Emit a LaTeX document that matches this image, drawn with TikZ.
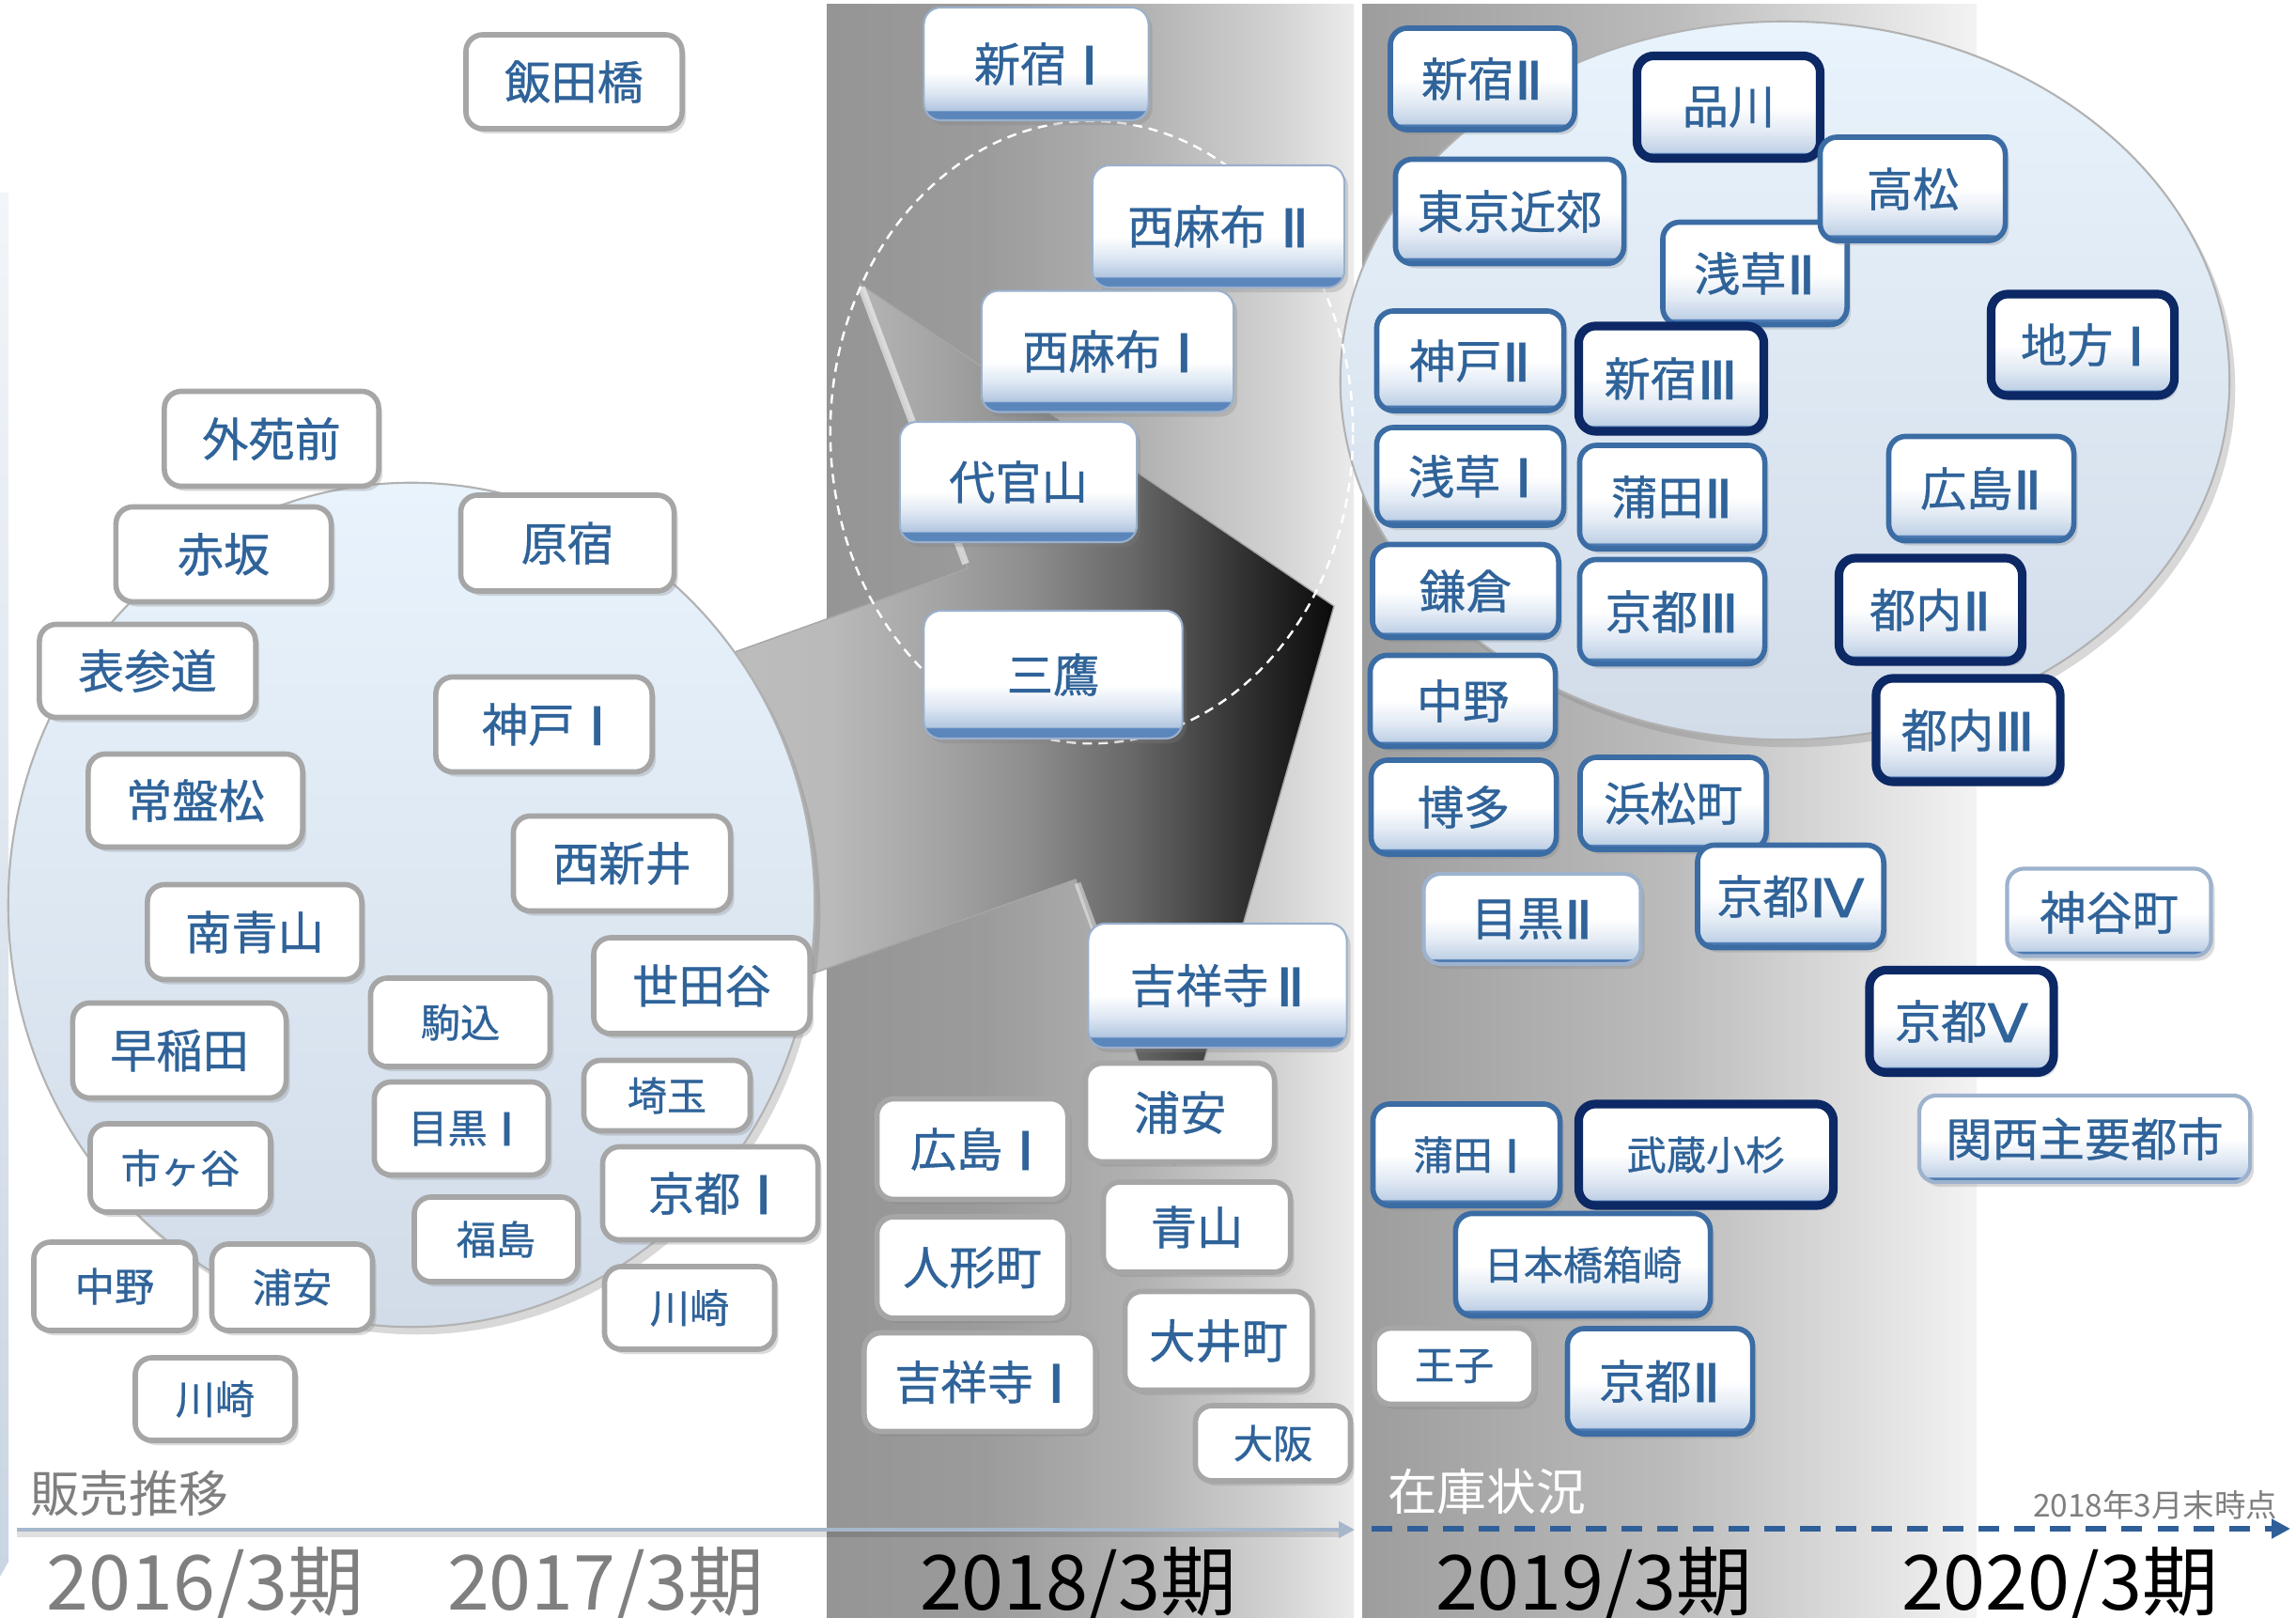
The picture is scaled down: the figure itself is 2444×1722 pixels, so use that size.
\documentclass[tikz,border=0pt]{standalone}
\usepackage{fontspec}
\setmainfont{Noto Sans CJK JP}
\newfontfamily\bxf{Noto Sans CJK JP}[FakeBold=0.7]
\newfontfamily\rnf{DejaVu Sans}[FakeBold=0.6]
\usetikzlibrary{shadows,arrows.meta}

\definecolor{txtblue}{HTML}{2F6399}
\definecolor{boxgray}{HTML}{A6A6A6}
\definecolor{steel}{HTML}{3B6CA4}
\definecolor{navy}{HTML}{0C2865}
\definecolor{lsteel}{HTML}{9DB2CD}
\definecolor{glossbd}{HTML}{9AB0CC}
\definecolor{bandA}{HTML}{5A86BC}
\definecolor{glowA}{HTML}{B3C7E0}
\definecolor{midA}{HTML}{DCE6F2}
\definecolor{bandB}{HTML}{4A79B2}
\definecolor{glowB}{HTML}{C0D1E6}
\definecolor{midB}{HTML}{E2EAF4}
\definecolor{axisgray}{HTML}{A6B7CB}
\definecolor{axisblue}{HTML}{2F5F98}
\definecolor{labgray}{HTML}{7F7F7F}
\definecolor{arA}{HTML}{C8C8C8}
\definecolor{arB}{HTML}{BABABA}
\definecolor{arC}{HTML}{A4A4A4}
\definecolor{arD}{HTML}{8E8E8E}
\definecolor{arE}{HTML}{666666}
\definecolor{arF}{HTML}{303030}
\definecolor{arG}{HTML}{0A0A0A}
\definecolor{cA1}{HTML}{959595}
\definecolor{cA2}{HTML}{9B9B9B}
\definecolor{cA3}{HTML}{B2B2B2}
\definecolor{cA4}{HTML}{D3D3D3}
\definecolor{cA5}{HTML}{EBEBEB}
\definecolor{cB1}{HTML}{9D9D9D}
\definecolor{cB2}{HTML}{BBBBBB}
\definecolor{cB3}{HTML}{F3F3F3}
\definecolor{circtop}{HTML}{E8F3FC}
\definecolor{circbot}{HTML}{D2DCE9}
\definecolor{stripA}{HTML}{F2F5F9}
\definecolor{stripB}{HTML}{C9D5E3}

\pgfdeclareverticalshading{glossA}{100bp}{color(0bp)=(bandA); color(29bp)=(bandA); color(29.6bp)=(glowA); color(37bp)=(midA); color(46bp)=(white); color(100bp)=(white)}
\pgfdeclareverticalshading{glossB}{100bp}{color(0bp)=(bandB); color(27.5bp)=(bandB); color(28.1bp)=(glowB); color(38bp)=(midB); color(50bp)=(white); color(100bp)=(white)}
\pgfdeclarehorizontalshading{arrowsh}{100bp}{color(0bp)=(arA); color(25bp)=(arA); color(52bp)=(arB); color(57bp)=(arC); color(61bp)=(arD); color(66bp)=(arE); color(71bp)=(arF); color(75bp)=(arG); color(100bp)=(arG)}
\pgfdeclarehorizontalshading{colA}{100bp}{color(0bp)=(cA1); color(25bp)=(cA1); color(40bp)=(cA2); color(55bp)=(cA3); color(68bp)=(cA4); color(75bp)=(cA5); color(100bp)=(cA5)}
\pgfdeclarehorizontalshading{colB}{100bp}{color(0bp)=(cB1); color(25bp)=(cB1); color(50bp)=(cB2); color(75bp)=(cB3); color(100bp)=(cB3)}

\newcommand\fbig{\fontsize{14pt}{17pt}\selectfont}
\newcommand\fsml{\fontsize{12pt}{14pt}\selectfont}
\newcommand\flab{\fontsize{15pt}{18pt}\selectfont}
\newcommand\fnote{\fontsize{9.5pt}{11pt}\selectfont}
\newcommand\fyear{\fontsize{23pt}{27pt}\selectfont}
\newcommand\rn[1]{\raisebox{-0.07em}{\scalebox{1.3}[1.15]{\rnf #1}}}
\newcommand\gap{\hspace{0.3em}}

\tikzset{
  bx/.style={rounded corners=0.18cm, inner sep=0pt, outer sep=0pt, text=txtblue, font=\bxf\fbig,
    drop shadow={shadow xshift=0.04cm, shadow yshift=-0.05cm, opacity=0.28}},
  gbox/.style={bx, draw=boxgray, line width=1.6pt, fill=white},
  abox/.style={bx, draw=glossbd, line width=0.6pt, shade, shading=glossA},
  bbox/.style={bx, draw=steel, line width=1.6pt, shade, shading=glossB},
  nbox/.style={bx, draw=navy, line width=2.6pt, shade, shading=glossB},
  lbox/.style={bx, draw=lsteel, line width=1.2pt, shade, shading=glossB},
  sm/.style={font=\bxf\fsml},
  sz/.style 2 args={minimum width=#1, minimum height=#2},
  lab/.style={inner sep=0pt, outer sep=0pt}
}

\begin{document}
\begin{tikzpicture}[x=0.01cm, y=-0.01cm]
\useasboundingbox (0,0) rectangle (2444,1722);
\fill[white] (0,0) rectangle (2444,1722);

% period columns
\shade[shading=colA] (880,5) rectangle (1441,1722);
\shade[shading=colB] (1450,5) rectangle (2104,1722);

% thin left strip
\shade[top color=stripA, bottom color=stripB] (0,205) -- (9,205) -- (9,1662) -- (0,1678) -- cycle;

% big 3D arrow
\shade[shading=arrowsh, draw=black!35, line width=0.4pt]
  (250,885) -- (1030,605) -- (915,302) -- (1420,645) -- (1250,1240) -- (1145,936) -- (250,1256) -- cycle;
\draw[white, opacity=0.55, line width=2.2pt] (917,306) -- (1028,600);
\draw[white, opacity=0.45, line width=2pt] (1147,940) -- (1180,1030);

% left circle
\shade[top color=circtop, bottom color=circbot, draw=black!30, line width=0.6pt,
  drop shadow={shadow xshift=0.06cm, shadow yshift=-0.08cm, opacity=0.3}]
  (438,963) ellipse [x radius=4.29cm, y radius=4.49cm];

% right circle
\shade[top color=circtop, bottom color=circbot, draw=black!30, line width=0.6pt,
  drop shadow={shadow xshift=0.06cm, shadow yshift=-0.08cm, opacity=0.3}]
  (1900,405) ellipse [x radius=4.73cm, y radius=3.82cm];

% dashed ellipse in 2018 column
\draw[white, line width=0.7pt, dash pattern=on 0.1cm off 0.07cm] (1162,460) ellipse [x radius=2.78cm, y radius=3.31cm];

% ---- 2016/2017 boxes
\node[gbox, sz={2.30cm}{1.00cm}] (iidabashi) at (611,87) {飯田橋};
\node[gbox, sz={2.28cm}{1.01cm}] (gaienmae) at (289,467) {外苑前};
\node[gbox, sz={2.29cm}{1.01cm}] (akasaka) at (238,590) {赤坂};
\node[gbox, sz={2.27cm}{1.02cm}] (harajuku) at (604,578) {原宿};
\node[gbox, sz={2.30cm}{0.99cm}] (omotesando) at (157,714) {表参道};
\node[gbox, sz={2.30cm}{1.01cm}] (kobeI) at (579,771) {神戸\gap\rn{Ⅰ}};
\node[gbox, sz={2.28cm}{0.99cm}] (tokiwamatsu) at (208,852) {常盤松};
\node[gbox, sz={2.31cm}{1.01cm}] (nishiarai) at (662,919) {西新井};
\node[gbox, sz={2.28cm}{1.01cm}] (minamiaoyama) at (271,992) {南青山};
\node[gbox, sz={2.27cm}{1.01cm}] (waseda) at (191,1118) {早稲田};
\node[gbox, sm, sz={1.91cm}{0.94cm}] (komagome) at (490,1088) {駒込};
\node[gbox, sz={2.30cm}{1.02cm}] (setagaya) at (747,1049) {世田谷};
\node[gbox, sm, sz={1.85cm}{0.99cm}] (meguroI) at (491,1201) {目黒\gap\rn{Ⅰ}};
\node[gbox, sm, sz={1.77cm}{0.75cm}] (saitama) at (710,1166) {埼玉};
\node[gbox, sm, sz={1.92cm}{0.94cm}] (ichigaya) at (192,1243) {市ヶ谷};
\node[gbox, sz={2.29cm}{0.99cm}] (kyotoI) at (756,1270) {京都\gap\rn{Ⅰ}};
\node[gbox, sm, sz={1.74cm}{0.90cm}] (fukushima) at (528,1319) {福島};
\node[gbox, sm, sz={1.72cm}{0.94cm}] (nakanoA) at (122,1369) {中野};
\node[gbox, sm, sz={1.71cm}{0.92cm}] (urayasuA) at (311,1370) {浦安};
\node[gbox, sm, sz={1.81cm}{0.88cm}] (kawasakiA) at (734,1392) {川崎};
\node[gbox, sm, sz={1.70cm}{0.88cm}] (kawasakiB) at (229,1489) {川崎};

% ---- 2018 boxes
\node[abox, sz={2.39cm}{1.20cm}] (shinjukuI) at (1103,68) {新宿\gap\rn{Ⅰ}};
\node[abox, sz={2.68cm}{1.30cm}] (nishiazabuII) at (1297,241) {西麻布\gap\rn{Ⅱ}};
\node[abox, sz={2.68cm}{1.29cm}] (nishiazabuI) at (1179,374) {西麻布\gap\rn{Ⅰ}};
\node[abox, sz={2.52cm}{1.28cm}] (daikanyama) at (1084,513) {代官山};
\node[abox, sz={2.75cm}{1.36cm}] (mitaka) at (1121,718) {三鷹};
\node[abox, sz={2.75cm}{1.32cm}] (kichijojiII) at (1296,1049) {吉祥寺\hspace{0.15em}\rn{Ⅱ}};
\node[gbox, sz={2.01cm}{1.05cm}] (urayasuB) at (1256,1184) {浦安};
\node[gbox, sz={2.03cm}{1.07cm}] (hiroshimaI) at (1035,1223) {広島\gap\rn{Ⅰ}};
\node[gbox, sz={1.99cm}{0.96cm}] (aoyama) at (1274,1306) {青山};
\node[gbox, sz={2.03cm}{1.08cm}] (ningyocho) at (1035,1349) {人形町};
\node[gbox, sz={1.99cm}{1.05cm}] (oimachi) at (1297,1427) {大井町};
\node[gbox, sz={2.46cm}{1.05cm}] (kichijojiI) at (1043,1471) {吉祥寺\gap\rn{Ⅰ}};
\node[gbox, sm, sz={1.65cm}{0.80cm}] (osaka) at (1355,1536) {大阪};

% ---- 2019/2020 boxes
\node[bbox, sz={1.96cm}{1.08cm}] (shinjukuII) at (1578,84) {新宿\rn{Ⅱ}};
\node[nbox, sz={1.95cm}{1.09cm}] (shinagawa) at (1840,114) {品川};
\node[bbox, sz={2.43cm}{1.11cm}] (tokyokinko) at (1607,225) {東京近郊};
\node[bbox, sz={1.96cm}{1.09cm}] (asakusaII) at (1868,291) {浅草\rn{Ⅱ}};
\node[bbox, sz={1.97cm}{1.10cm}] (takamatsu) at (2036,201) {高松};
\node[nbox, sz={1.95cm}{1.08cm}] (chihoI) at (2217,367) {地方\gap\rn{Ⅰ}};
\node[bbox, sz={1.99cm}{1.06cm}] (kobeII) at (1565,384) {神戸\rn{Ⅱ}};
\node[nbox, sz={1.97cm}{1.12cm}] (shinjukuIII) at (1779,403) {新宿\rn{Ⅲ}};
\node[bbox, sz={1.99cm}{1.04cm}] (asakusaI) at (1565,507) {浅草\gap\rn{Ⅰ}};
\node[bbox, sz={1.97cm}{1.10cm}] (kamataII) at (1780,529) {蒲田\rn{Ⅱ}};
\node[bbox, sz={1.97cm}{1.11cm}] (hiroshimaII) at (2109,520) {広島\rn{Ⅱ}};
\node[bbox, sz={1.98cm}{0.99cm}] (kamakura) at (1560,629) {鎌倉};
\node[bbox, sz={1.97cm}{1.11cm}] (kyotoIII) at (1780,651) {京都\rn{Ⅲ}};
\node[nbox, sz={1.95cm}{1.10cm}] (tonaiII) at (2055,649) {都内\rn{Ⅱ}};
\node[bbox, sz={1.97cm}{0.97cm}] (nakanoB) at (1557,746) {中野};
\node[nbox, sz={1.96cm}{1.10cm}] (tonaiIII) at (2095,777) {都内\rn{Ⅲ}};
\node[bbox, sz={1.97cm}{1.00cm}] (hakata) at (1558,859) {博多};
\node[bbox, sz={1.98cm}{0.98cm}] (hamamatsucho) at (1781,855) {浜松町};
\node[bbox, sz={1.98cm}{1.09cm}] (kyotoIV) at (1906,954) {京都\rn{Ⅳ}};
\node[lbox, sz={2.31cm}{0.96cm}] (meguroII) at (1631,978) {目黒\rn{Ⅱ}};
\node[lbox, sz={2.17cm}{0.93cm}] (kamiyacho) at (2245,971) {神谷町};
\node[nbox, sz={1.96cm}{1.09cm}] (kyotoV) at (2088,1087) {京都\rn{Ⅴ}};
\node[lbox, sz={3.52cm}{0.92cm}] (kansai) at (2219,1212) {関西主要都市};
\node[bbox, sm, sz={1.99cm}{1.08cm}] (kamataI) at (1561,1229) {蒲田\gap\rn{Ⅰ}};
\node[nbox, sm, sz={2.71cm}{1.08cm}] (musashikosugi) at (1816,1229) {武蔵小杉};
\node[bbox, sm, sz={2.71cm}{1.09cm}] (nihonbashi) at (1685,1346) {日本橋箱崎};
\node[gbox, sm, sz={1.70cm}{0.81cm}] (oji) at (1548,1454) {王子};
\node[bbox, sz={1.97cm}{1.12cm}] (kyotoII) at (1767,1470) {京都\rn{Ⅱ}};

% ---- time axis
\coordinate (axA) at (18,1628);
\coordinate (axB) at (1442,1628);
\coordinate (axC) at (1460,1627);
\coordinate (axD) at (2438,1627);
\draw[black, opacity=0.12, line width=1.6pt] ([yshift=-0.05cm]axA) -- ([yshift=-0.05cm,xshift=-0.15cm]axB);
\draw[axisgray, line width=1.4pt, -{Triangle[length=0.17cm,width=0.17cm]}] (axA) -- (axB);
\draw[axisblue, line width=1.7pt, dash pattern=on 0.22cm off 0.16cm, -{Triangle[length=0.2cm,width=0.2cm]}] (axC) -- (axD);

% ---- labels
\node[lab, anchor=base west, font=\flab, text=labgray] (hanbai) at (32,1609) {販売推移};
\node[lab, anchor=base west, font=\flab, text=white] (zaiko) at (1477,1607) {在庫状況};
\node[lab, anchor=base east, font=\fnote, text=labgray] (asof) at (2424,1614) {2018年3月末時点};
\node[lab, anchor=base west, font=\fyear, text=labgray] (y2016) at (50,1713) {2016/3期};
\node[lab, anchor=base west, font=\fyear, text=labgray] (y2017) at (476,1713) {2017/3期};
\node[lab, anchor=base west, font=\fyear, text=black] (y2018) at (979,1713) {2018/3期};
\node[lab, anchor=base west, font=\fyear, text=black] (y2019) at (1528,1713) {2019/3期};
\node[lab, anchor=base west, font=\fyear, text=black] (y2020) at (2024,1713) {2020/3期};
\end{tikzpicture}
\end{document}
